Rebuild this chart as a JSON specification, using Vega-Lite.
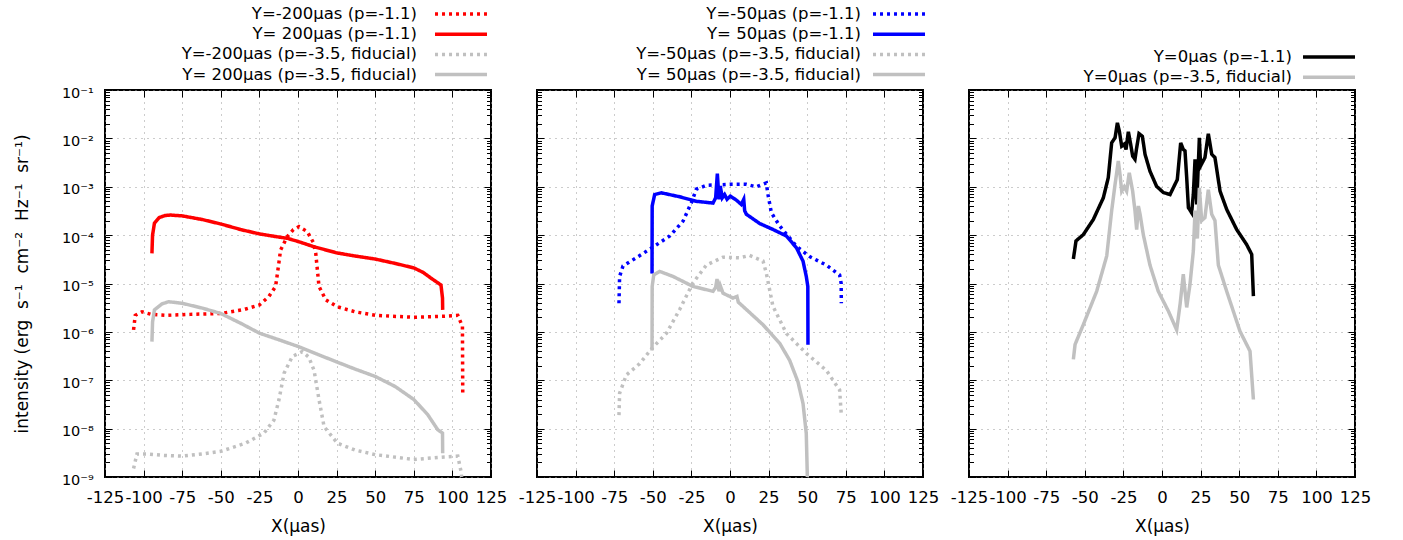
{
  "$schema": "https://vega.github.io/schema/vega-lite/v6.json",
  "autosize": {"type": "none"},
  "padding": {"left": 105, "top": 90, "right": 1298, "bottom": 450},
  "background": "white",
  "spacing": 46,
  "bounds": "flush",
  "config": {
    "font": "DejaVu Sans",
    "view": {"stroke": "black", "strokeWidth": 2},
    "axis": {"domain": false, "tickColor": "black", "tickWidth": 1, "labelColor": "black", "titleColor": "black", "titleFontWeight": "normal", "gridColor": "#999999", "gridDash": [1, 5], "gridWidth": 1, "labelFont": "DejaVu Sans", "titleFont": "DejaVu Sans"},
    "legend": {"orient": "none", "symbolType": "M-5,0H5", "symbolSize": 108, "symbolStrokeWidth": 3.5, "labelAlign": "right", "labelFontSize": 16.5, "labelFont": "DejaVu Sans", "labelColor": "black", "rowPadding": 3.2, "padding": 0, "labelLimit": 500}
  },
  "resolve": {"scale": {"color": "independent", "strokeDash": "independent"}, "legend": {"color": "independent", "strokeDash": "independent"}},
  "datasets": {
    "p1": [
      {"s": "Y=-200μas (p=-1.1)", "x": -106.5, "y": 1.1e-6},
      {"s": "Y=-200μas (p=-1.1)", "x": -105.4, "y": 2.2e-6},
      {"s": "Y=-200μas (p=-1.1)", "x": -101, "y": 2.6e-6},
      {"s": "Y=-200μas (p=-1.1)", "x": -95, "y": 2.3e-6},
      {"s": "Y=-200μas (p=-1.1)", "x": -85, "y": 2.2e-6},
      {"s": "Y=-200μas (p=-1.1)", "x": -70, "y": 2.3e-6},
      {"s": "Y=-200μas (p=-1.1)", "x": -50, "y": 2.4e-6},
      {"s": "Y=-200μas (p=-1.1)", "x": -35, "y": 2.9e-6},
      {"s": "Y=-200μas (p=-1.1)", "x": -25, "y": 3.6e-6},
      {"s": "Y=-200μas (p=-1.1)", "x": -18.8, "y": 5.4e-6},
      {"s": "Y=-200μas (p=-1.1)", "x": -14.5, "y": 8.7e-6},
      {"s": "Y=-200μas (p=-1.1)", "x": -12.5, "y": 2.5e-5},
      {"s": "Y=-200μas (p=-1.1)", "x": -11.3, "y": 4.9e-5},
      {"s": "Y=-200μas (p=-1.1)", "x": -7, "y": 9.3e-5},
      {"s": "Y=-200μas (p=-1.1)", "x": -3, "y": 1.3e-4},
      {"s": "Y=-200μas (p=-1.1)", "x": 0.6, "y": 1.5e-4},
      {"s": "Y=-200μas (p=-1.1)", "x": 6, "y": 1.18e-4},
      {"s": "Y=-200μas (p=-1.1)", "x": 10, "y": 7e-5},
      {"s": "Y=-200μas (p=-1.1)", "x": 11.5, "y": 4.2e-5},
      {"s": "Y=-200μas (p=-1.1)", "x": 13.6, "y": 8.7e-6},
      {"s": "Y=-200μas (p=-1.1)", "x": 18, "y": 4.6e-6},
      {"s": "Y=-200μas (p=-1.1)", "x": 25.5, "y": 3.3e-6},
      {"s": "Y=-200μas (p=-1.1)", "x": 37, "y": 2.6e-6},
      {"s": "Y=-200μas (p=-1.1)", "x": 50, "y": 2.2e-6},
      {"s": "Y=-200μas (p=-1.1)", "x": 75, "y": 2.0e-6},
      {"s": "Y=-200μas (p=-1.1)", "x": 93.7, "y": 2.1e-6},
      {"s": "Y=-200μas (p=-1.1)", "x": 103.5, "y": 2.2e-6},
      {"s": "Y=-200μas (p=-1.1)", "x": 106.5, "y": 1.3e-6},
      {"s": "Y=-200μas (p=-1.1)", "x": 106.7, "y": 5.4e-8},
      {"s": "Y= 200μas (p=-1.1)", "x": -94.6, "y": 4.2e-5},
      {"s": "Y= 200μas (p=-1.1)", "x": -94.2, "y": 1.0e-4},
      {"s": "Y= 200μas (p=-1.1)", "x": -93, "y": 1.76e-4},
      {"s": "Y= 200μas (p=-1.1)", "x": -90, "y": 2.3e-4},
      {"s": "Y= 200μas (p=-1.1)", "x": -86, "y": 2.55e-4},
      {"s": "Y= 200μas (p=-1.1)", "x": -82.7, "y": 2.6e-4},
      {"s": "Y= 200μas (p=-1.1)", "x": -75, "y": 2.5e-4},
      {"s": "Y= 200μas (p=-1.1)", "x": -62, "y": 2.1e-4},
      {"s": "Y= 200μas (p=-1.1)", "x": -50, "y": 1.7e-4},
      {"s": "Y= 200μas (p=-1.1)", "x": -37, "y": 1.3e-4},
      {"s": "Y= 200μas (p=-1.1)", "x": -25, "y": 1.06e-4},
      {"s": "Y= 200μas (p=-1.1)", "x": -15, "y": 9.4e-5},
      {"s": "Y= 200μas (p=-1.1)", "x": -7, "y": 8.6e-5},
      {"s": "Y= 200μas (p=-1.1)", "x": 0, "y": 7.4e-5},
      {"s": "Y= 200μas (p=-1.1)", "x": 10, "y": 5.8e-5},
      {"s": "Y= 200μas (p=-1.1)", "x": 25, "y": 4.3e-5},
      {"s": "Y= 200μas (p=-1.1)", "x": 37, "y": 3.7e-5},
      {"s": "Y= 200μas (p=-1.1)", "x": 50, "y": 3.2e-5},
      {"s": "Y= 200μas (p=-1.1)", "x": 63, "y": 2.6e-5},
      {"s": "Y= 200μas (p=-1.1)", "x": 75, "y": 2.1e-5},
      {"s": "Y= 200μas (p=-1.1)", "x": 81, "y": 1.7e-5},
      {"s": "Y= 200μas (p=-1.1)", "x": 86, "y": 1.3e-5},
      {"s": "Y= 200μas (p=-1.1)", "x": 92.6, "y": 9.3e-6},
      {"s": "Y= 200μas (p=-1.1)", "x": 93.6, "y": 5e-6},
      {"s": "Y= 200μas (p=-1.1)", "x": 93.7, "y": 2.85e-6},
      {"s": "Y=-200μas (p=-3.5, fiducial)", "x": -106.5, "y": 1.5e-9},
      {"s": "Y=-200μas (p=-3.5, fiducial)", "x": -104.3, "y": 3.0e-9},
      {"s": "Y=-200μas (p=-3.5, fiducial)", "x": -97.8, "y": 3.0e-9},
      {"s": "Y=-200μas (p=-3.5, fiducial)", "x": -87, "y": 2.8e-9},
      {"s": "Y=-200μas (p=-3.5, fiducial)", "x": -75, "y": 2.7e-9},
      {"s": "Y=-200μas (p=-3.5, fiducial)", "x": -62, "y": 3.0e-9},
      {"s": "Y=-200μas (p=-3.5, fiducial)", "x": -50, "y": 3.4e-9},
      {"s": "Y=-200μas (p=-3.5, fiducial)", "x": -34, "y": 5.0e-9},
      {"s": "Y=-200μas (p=-3.5, fiducial)", "x": -22, "y": 8.1e-9},
      {"s": "Y=-200μas (p=-3.5, fiducial)", "x": -15.6, "y": 1.5e-8},
      {"s": "Y=-200μas (p=-3.5, fiducial)", "x": -12.3, "y": 4.0e-8},
      {"s": "Y=-200μas (p=-3.5, fiducial)", "x": -9, "y": 1.4e-7},
      {"s": "Y=-200μas (p=-3.5, fiducial)", "x": -3.7, "y": 3.1e-7},
      {"s": "Y=-200μas (p=-3.5, fiducial)", "x": 2.8, "y": 3.9e-7},
      {"s": "Y=-200μas (p=-3.5, fiducial)", "x": 7, "y": 3.0e-7},
      {"s": "Y=-200μas (p=-3.5, fiducial)", "x": 10.4, "y": 1.6e-7},
      {"s": "Y=-200μas (p=-3.5, fiducial)", "x": 13.6, "y": 4.0e-8},
      {"s": "Y=-200μas (p=-3.5, fiducial)", "x": 16.9, "y": 1.1e-8},
      {"s": "Y=-200μas (p=-3.5, fiducial)", "x": 25.5, "y": 5.0e-9},
      {"s": "Y=-200μas (p=-3.5, fiducial)", "x": 37, "y": 3.6e-9},
      {"s": "Y=-200μas (p=-3.5, fiducial)", "x": 50, "y": 2.9e-9},
      {"s": "Y=-200μas (p=-3.5, fiducial)", "x": 75, "y": 2.3e-9},
      {"s": "Y=-200μas (p=-3.5, fiducial)", "x": 94.8, "y": 2.6e-9},
      {"s": "Y=-200μas (p=-3.5, fiducial)", "x": 103.5, "y": 2.7e-9},
      {"s": "Y=-200μas (p=-3.5, fiducial)", "x": 105.6, "y": 1.3e-9},
      {"s": "Y=-200μas (p=-3.5, fiducial)", "x": 106, "y": 1.0e-9},
      {"s": "Y= 200μas (p=-3.5, fiducial)", "x": -94.6, "y": 6.3e-7},
      {"s": "Y= 200μas (p=-3.5, fiducial)", "x": -94.2, "y": 1.6e-6},
      {"s": "Y= 200μas (p=-3.5, fiducial)", "x": -93, "y": 2.85e-6},
      {"s": "Y= 200μas (p=-3.5, fiducial)", "x": -88, "y": 3.8e-6},
      {"s": "Y= 200μas (p=-3.5, fiducial)", "x": -83.8, "y": 4.2e-6},
      {"s": "Y= 200μas (p=-3.5, fiducial)", "x": -75, "y": 3.9e-6},
      {"s": "Y= 200μas (p=-3.5, fiducial)", "x": -62, "y": 3.1e-6},
      {"s": "Y= 200μas (p=-3.5, fiducial)", "x": -50, "y": 2.4e-6},
      {"s": "Y= 200μas (p=-3.5, fiducial)", "x": -37, "y": 1.5e-6},
      {"s": "Y= 200μas (p=-3.5, fiducial)", "x": -25, "y": 9.4e-7},
      {"s": "Y= 200μas (p=-3.5, fiducial)", "x": -12, "y": 6.8e-7},
      {"s": "Y= 200μas (p=-3.5, fiducial)", "x": 0, "y": 5.0e-7},
      {"s": "Y= 200μas (p=-3.5, fiducial)", "x": 12, "y": 3.5e-7},
      {"s": "Y= 200μas (p=-3.5, fiducial)", "x": 25, "y": 2.4e-7},
      {"s": "Y= 200μas (p=-3.5, fiducial)", "x": 37, "y": 1.7e-7},
      {"s": "Y= 200μas (p=-3.5, fiducial)", "x": 50, "y": 1.2e-7},
      {"s": "Y= 200μas (p=-3.5, fiducial)", "x": 63, "y": 7.4e-8},
      {"s": "Y= 200μas (p=-3.5, fiducial)", "x": 75, "y": 4.0e-8},
      {"s": "Y= 200μas (p=-3.5, fiducial)", "x": 84, "y": 1.95e-8},
      {"s": "Y= 200μas (p=-3.5, fiducial)", "x": 90.5, "y": 9.5e-9},
      {"s": "Y= 200μas (p=-3.5, fiducial)", "x": 93.6, "y": 8.1e-9},
      {"s": "Y= 200μas (p=-3.5, fiducial)", "x": 93.7, "y": 3.1e-9}
    ],
    "p2": [
      {"s": "Y=-50μas (p=-1.1)", "x": -71.9, "y": 3.9e-6},
      {"s": "Y=-50μas (p=-1.1)", "x": -71.5, "y": 1.4e-5},
      {"s": "Y=-50μas (p=-1.1)", "x": -69.3, "y": 2.3e-5},
      {"s": "Y=-50μas (p=-1.1)", "x": -60.7, "y": 3.4e-5},
      {"s": "Y=-50μas (p=-1.1)", "x": -50.5, "y": 5.5e-5},
      {"s": "Y=-50μas (p=-1.1)", "x": -39, "y": 9.6e-5},
      {"s": "Y=-50μas (p=-1.1)", "x": -30.4, "y": 1.95e-4},
      {"s": "Y=-50μas (p=-1.1)", "x": -25, "y": 4.7e-4},
      {"s": "Y=-50μas (p=-1.1)", "x": -21.8, "y": 8.9e-4},
      {"s": "Y=-50μas (p=-1.1)", "x": -15.3, "y": 1.07e-3},
      {"s": "Y=-50μas (p=-1.1)", "x": -0.2, "y": 1.12e-3},
      {"s": "Y=-50μas (p=-1.1)", "x": 10.6, "y": 1.12e-3},
      {"s": "Y=-50μas (p=-1.1)", "x": 17, "y": 1.0e-3},
      {"s": "Y=-50μas (p=-1.1)", "x": 23.5, "y": 1.2e-3},
      {"s": "Y=-50μas (p=-1.1)", "x": 24.6, "y": 6.9e-4},
      {"s": "Y=-50μas (p=-1.1)", "x": 26.8, "y": 2.9e-4},
      {"s": "Y=-50μas (p=-1.1)", "x": 32.2, "y": 1.55e-4},
      {"s": "Y=-50μas (p=-1.1)", "x": 43, "y": 5.9e-5},
      {"s": "Y=-50μas (p=-1.1)", "x": 51.6, "y": 3.6e-5},
      {"s": "Y=-50μas (p=-1.1)", "x": 62.4, "y": 2.4e-5},
      {"s": "Y=-50μas (p=-1.1)", "x": 71, "y": 1.5e-5},
      {"s": "Y=-50μas (p=-1.1)", "x": 72, "y": 1.0e-5},
      {"s": "Y=-50μas (p=-1.1)", "x": 72.1, "y": 3.9e-6},
      {"s": "Y= 50μas (p=-1.1)", "x": -50.5, "y": 1.6e-5},
      {"s": "Y= 50μas (p=-1.1)", "x": -50.4, "y": 4.0e-4},
      {"s": "Y= 50μas (p=-1.1)", "x": -48.8, "y": 6.9e-4},
      {"s": "Y= 50μas (p=-1.1)", "x": -44.5, "y": 7.5e-4},
      {"s": "Y= 50μas (p=-1.1)", "x": -32.6, "y": 6.2e-4},
      {"s": "Y= 50μas (p=-1.1)", "x": -21.8, "y": 5.0e-4},
      {"s": "Y= 50μas (p=-1.1)", "x": -11, "y": 4.6e-4},
      {"s": "Y= 50μas (p=-1.1)", "x": -9.3, "y": 5.9e-4},
      {"s": "Y= 50μas (p=-1.1)", "x": -8.2, "y": 1.86e-3},
      {"s": "Y= 50μas (p=-1.1)", "x": -7.1, "y": 5.5e-4},
      {"s": "Y= 50μas (p=-1.1)", "x": -6.3, "y": 1.04e-3},
      {"s": "Y= 50μas (p=-1.1)", "x": -5, "y": 5.9e-4},
      {"s": "Y= 50μas (p=-1.1)", "x": -3.5, "y": 6.9e-4},
      {"s": "Y= 50μas (p=-1.1)", "x": -1.9, "y": 5.5e-4},
      {"s": "Y= 50μas (p=-1.1)", "x": 0.2, "y": 6.4e-4},
      {"s": "Y= 50μas (p=-1.1)", "x": 4.1, "y": 5.3e-4},
      {"s": "Y= 50μas (p=-1.1)", "x": 7.3, "y": 4.3e-4},
      {"s": "Y= 50μas (p=-1.1)", "x": 8.9, "y": 5.5e-4},
      {"s": "Y= 50μas (p=-1.1)", "x": 9.5, "y": 3.2e-4},
      {"s": "Y= 50μas (p=-1.1)", "x": 10.6, "y": 2.7e-4},
      {"s": "Y= 50μas (p=-1.1)", "x": 19.2, "y": 1.74e-4},
      {"s": "Y= 50μas (p=-1.1)", "x": 27.8, "y": 1.31e-4},
      {"s": "Y= 50μas (p=-1.1)", "x": 36.5, "y": 9.6e-5},
      {"s": "Y= 50μas (p=-1.1)", "x": 43, "y": 5.5e-5},
      {"s": "Y= 50μas (p=-1.1)", "x": 47.3, "y": 2.9e-5},
      {"s": "Y= 50μas (p=-1.1)", "x": 49.4, "y": 1.4e-5},
      {"s": "Y= 50μas (p=-1.1)", "x": 50.4, "y": 8.7e-6},
      {"s": "Y= 50μas (p=-1.1)", "x": 50.5, "y": 5.4e-7},
      {"s": "Y=-50μas (p=-3.5, fiducial)", "x": -71.9, "y": 1.9e-8},
      {"s": "Y=-50μas (p=-3.5, fiducial)", "x": -71.5, "y": 5.4e-8},
      {"s": "Y=-50μas (p=-3.5, fiducial)", "x": -67.1, "y": 1.29e-7},
      {"s": "Y=-50μas (p=-3.5, fiducial)", "x": -58.5, "y": 2.2e-7},
      {"s": "Y=-50μas (p=-3.5, fiducial)", "x": -50.5, "y": 4.6e-7},
      {"s": "Y=-50μas (p=-3.5, fiducial)", "x": -41.2, "y": 9.3e-7},
      {"s": "Y=-50μas (p=-3.5, fiducial)", "x": -32.6, "y": 2.9e-6},
      {"s": "Y=-50μas (p=-3.5, fiducial)", "x": -24, "y": 1.03e-5},
      {"s": "Y=-50μas (p=-3.5, fiducial)", "x": -15.3, "y": 2.4e-5},
      {"s": "Y=-50μas (p=-3.5, fiducial)", "x": -4.5, "y": 3.5e-5},
      {"s": "Y=-50μas (p=-3.5, fiducial)", "x": 6.3, "y": 3.4e-5},
      {"s": "Y=-50μas (p=-3.5, fiducial)", "x": 12.7, "y": 3.8e-5},
      {"s": "Y=-50μas (p=-3.5, fiducial)", "x": 21.4, "y": 2.9e-5},
      {"s": "Y=-50μas (p=-3.5, fiducial)", "x": 23.5, "y": 1.65e-5},
      {"s": "Y=-50μas (p=-3.5, fiducial)", "x": 27.8, "y": 3.4e-6},
      {"s": "Y=-50μas (p=-3.5, fiducial)", "x": 36.5, "y": 9.3e-7},
      {"s": "Y=-50μas (p=-3.5, fiducial)", "x": 49.4, "y": 3.6e-7},
      {"s": "Y=-50μas (p=-3.5, fiducial)", "x": 62.4, "y": 1.6e-7},
      {"s": "Y=-50μas (p=-3.5, fiducial)", "x": 71, "y": 6.3e-8},
      {"s": "Y=-50μas (p=-3.5, fiducial)", "x": 72.1, "y": 1.9e-8},
      {"s": "Y= 50μas (p=-3.5, fiducial)", "x": -50.5, "y": 4.1e-7},
      {"s": "Y= 50μas (p=-3.5, fiducial)", "x": -50.4, "y": 8.7e-6},
      {"s": "Y= 50μas (p=-3.5, fiducial)", "x": -49.4, "y": 1.5e-5},
      {"s": "Y= 50μas (p=-3.5, fiducial)", "x": -45.6, "y": 1.78e-5},
      {"s": "Y= 50μas (p=-3.5, fiducial)", "x": -36.9, "y": 1.4e-5},
      {"s": "Y= 50μas (p=-3.5, fiducial)", "x": -24, "y": 8.7e-6},
      {"s": "Y= 50μas (p=-3.5, fiducial)", "x": -11, "y": 6.9e-6},
      {"s": "Y= 50μas (p=-3.5, fiducial)", "x": -9.3, "y": 8.3e-6},
      {"s": "Y= 50μas (p=-3.5, fiducial)", "x": -8.4, "y": 1.23e-5},
      {"s": "Y= 50μas (p=-3.5, fiducial)", "x": -7.1, "y": 6.9e-6},
      {"s": "Y= 50μas (p=-3.5, fiducial)", "x": -6.3, "y": 9e-6},
      {"s": "Y= 50μas (p=-3.5, fiducial)", "x": -4.5, "y": 6.3e-6},
      {"s": "Y= 50μas (p=-3.5, fiducial)", "x": 1.9, "y": 5.0e-6},
      {"s": "Y= 50μas (p=-3.5, fiducial)", "x": 4.5, "y": 5.4e-6},
      {"s": "Y= 50μas (p=-3.5, fiducial)", "x": 5.4, "y": 4.1e-6},
      {"s": "Y= 50μas (p=-3.5, fiducial)", "x": 10.6, "y": 2.9e-6},
      {"s": "Y= 50μas (p=-3.5, fiducial)", "x": 21.4, "y": 1.4e-6},
      {"s": "Y= 50μas (p=-3.5, fiducial)", "x": 32.2, "y": 5.8e-7},
      {"s": "Y= 50μas (p=-3.5, fiducial)", "x": 38.6, "y": 2.6e-7},
      {"s": "Y= 50μas (p=-3.5, fiducial)", "x": 44, "y": 9.3e-8},
      {"s": "Y= 50μas (p=-3.5, fiducial)", "x": 47.3, "y": 3.3e-8},
      {"s": "Y= 50μas (p=-3.5, fiducial)", "x": 49.4, "y": 7.9e-9},
      {"s": "Y= 50μas (p=-3.5, fiducial)", "x": 50.1, "y": 1.0e-9}
    ],
    "p3": [
      {"s": "Y=0μas (p=-1.1)", "x": -57.4, "y": 3.2e-5},
      {"s": "Y=0μas (p=-1.1)", "x": -55.7, "y": 7.6e-5},
      {"s": "Y=0μas (p=-1.1)", "x": -51, "y": 1.02e-4},
      {"s": "Y=0μas (p=-1.1)", "x": -44.5, "y": 2.1e-4},
      {"s": "Y=0μas (p=-1.1)", "x": -38, "y": 5.9e-4},
      {"s": "Y=0μas (p=-1.1)", "x": -34.8, "y": 1.54e-3},
      {"s": "Y=0μas (p=-1.1)", "x": -32.6, "y": 8.1e-3},
      {"s": "Y=0μas (p=-1.1)", "x": -30.4, "y": 1.03e-2},
      {"s": "Y=0μas (p=-1.1)", "x": -28.9, "y": 2.1e-2},
      {"s": "Y=0μas (p=-1.1)", "x": -27.6, "y": 1.4e-2},
      {"s": "Y=0μas (p=-1.1)", "x": -26.1, "y": 6.9e-3},
      {"s": "Y=0μas (p=-1.1)", "x": -24.4, "y": 7.6e-3},
      {"s": "Y=0μas (p=-1.1)", "x": -23.3, "y": 5.9e-3},
      {"s": "Y=0μas (p=-1.1)", "x": -21.8, "y": 1.37e-2},
      {"s": "Y=0μas (p=-1.1)", "x": -20.3, "y": 7.6e-3},
      {"s": "Y=0μas (p=-1.1)", "x": -19, "y": 4.3e-3},
      {"s": "Y=0μas (p=-1.1)", "x": -17.5, "y": 3.7e-3},
      {"s": "Y=0μas (p=-1.1)", "x": -16.4, "y": 6.4e-3},
      {"s": "Y=0μas (p=-1.1)", "x": -14.9, "y": 1.25e-2},
      {"s": "Y=0μas (p=-1.1)", "x": -12.7, "y": 1.1e-2},
      {"s": "Y=0μas (p=-1.1)", "x": -11, "y": 4.7e-3},
      {"s": "Y=0μas (p=-1.1)", "x": -7.8, "y": 2.1e-3},
      {"s": "Y=0μas (p=-1.1)", "x": -3.5, "y": 1.02e-3},
      {"s": "Y=0μas (p=-1.1)", "x": 0.9, "y": 7.6e-4},
      {"s": "Y=0μas (p=-1.1)", "x": 5.2, "y": 6.9e-4},
      {"s": "Y=0μas (p=-1.1)", "x": 8.4, "y": 1.12e-3},
      {"s": "Y=0μas (p=-1.1)", "x": 9.9, "y": 1.4e-3},
      {"s": "Y=0μas (p=-1.1)", "x": 12.1, "y": 8.1e-3},
      {"s": "Y=0μas (p=-1.1)", "x": 13.8, "y": 5.9e-3},
      {"s": "Y=0μas (p=-1.1)", "x": 14.9, "y": 5.5e-3},
      {"s": "Y=0μas (p=-1.1)", "x": 16, "y": 1.54e-3},
      {"s": "Y=0μas (p=-1.1)", "x": 17.1, "y": 3.7e-4},
      {"s": "Y=0μas (p=-1.1)", "x": 19.2, "y": 2.9e-4},
      {"s": "Y=0μas (p=-1.1)", "x": 20.3, "y": 7e-4},
      {"s": "Y=0μas (p=-1.1)", "x": 21.4, "y": 3.7e-3},
      {"s": "Y=0μas (p=-1.1)", "x": 22.5, "y": 4.3e-4},
      {"s": "Y=0μas (p=-1.1)", "x": 24.2, "y": 1.03e-2},
      {"s": "Y=0μas (p=-1.1)", "x": 25, "y": 2.7e-3},
      {"s": "Y=0μas (p=-1.1)", "x": 27.8, "y": 4e-3},
      {"s": "Y=0μas (p=-1.1)", "x": 30, "y": 1.25e-2},
      {"s": "Y=0μas (p=-1.1)", "x": 32.2, "y": 4.7e-3},
      {"s": "Y=0μas (p=-1.1)", "x": 34.3, "y": 4e-3},
      {"s": "Y=0μas (p=-1.1)", "x": 37.6, "y": 8.1e-4},
      {"s": "Y=0μas (p=-1.1)", "x": 41.9, "y": 3.4e-4},
      {"s": "Y=0μas (p=-1.1)", "x": 48.4, "y": 1.3e-4},
      {"s": "Y=0μas (p=-1.1)", "x": 54.8, "y": 6.4e-5},
      {"s": "Y=0μas (p=-1.1)", "x": 58.1, "y": 4.0e-5},
      {"s": "Y=0μas (p=-1.1)", "x": 59.2, "y": 5.5e-6},
      {"s": "Y=0μas (p=-3.5, fiducial)", "x": -57.4, "y": 2.7e-7},
      {"s": "Y=0μas (p=-3.5, fiducial)", "x": -56.3, "y": 5.5e-7},
      {"s": "Y=0μas (p=-3.5, fiducial)", "x": -51, "y": 1.4e-6},
      {"s": "Y=0μas (p=-3.5, fiducial)", "x": -42.3, "y": 6.9e-6},
      {"s": "Y=0μas (p=-3.5, fiducial)", "x": -35.8, "y": 3.7e-5},
      {"s": "Y=0μas (p=-3.5, fiducial)", "x": -32.6, "y": 3.2e-4},
      {"s": "Y=0μas (p=-3.5, fiducial)", "x": -30.4, "y": 1.12e-3},
      {"s": "Y=0μas (p=-3.5, fiducial)", "x": -28.3, "y": 3.4e-3},
      {"s": "Y=0μas (p=-3.5, fiducial)", "x": -27.2, "y": 1.8e-3},
      {"s": "Y=0μas (p=-3.5, fiducial)", "x": -26.1, "y": 8.1e-4},
      {"s": "Y=0μas (p=-3.5, fiducial)", "x": -24.4, "y": 1.0e-3},
      {"s": "Y=0μas (p=-3.5, fiducial)", "x": -22.9, "y": 8.1e-4},
      {"s": "Y=0μas (p=-3.5, fiducial)", "x": -21.2, "y": 1.95e-3},
      {"s": "Y=0μas (p=-3.5, fiducial)", "x": -19, "y": 8.1e-4},
      {"s": "Y=0μas (p=-3.5, fiducial)", "x": -17.5, "y": 3.2e-4},
      {"s": "Y=0μas (p=-3.5, fiducial)", "x": -16.4, "y": 1.3e-4},
      {"s": "Y=0μas (p=-3.5, fiducial)", "x": -15.3, "y": 4e-4},
      {"s": "Y=0μas (p=-3.5, fiducial)", "x": -14.2, "y": 2.7e-4},
      {"s": "Y=0μas (p=-3.5, fiducial)", "x": -12.1, "y": 1.02e-4},
      {"s": "Y=0μas (p=-3.5, fiducial)", "x": -7.8, "y": 2.4e-5},
      {"s": "Y=0μas (p=-3.5, fiducial)", "x": -2.4, "y": 6.9e-6},
      {"s": "Y=0μas (p=-3.5, fiducial)", "x": 4.1, "y": 2.7e-6},
      {"s": "Y=0μas (p=-3.5, fiducial)", "x": 9.5, "y": 1.1e-6},
      {"s": "Y=0μas (p=-3.5, fiducial)", "x": 11.7, "y": 3.7e-6},
      {"s": "Y=0μas (p=-3.5, fiducial)", "x": 13.8, "y": 1.55e-5},
      {"s": "Y=0μas (p=-3.5, fiducial)", "x": 16, "y": 3.2e-6},
      {"s": "Y=0μas (p=-3.5, fiducial)", "x": 18.1, "y": 9.5e-6},
      {"s": "Y=0μas (p=-3.5, fiducial)", "x": 20.3, "y": 4.7e-5},
      {"s": "Y=0μas (p=-3.5, fiducial)", "x": 21.4, "y": 3.2e-4},
      {"s": "Y=0μas (p=-3.5, fiducial)", "x": 22.9, "y": 8.5e-5},
      {"s": "Y=0μas (p=-3.5, fiducial)", "x": 24.2, "y": 9.5e-4},
      {"s": "Y=0μas (p=-3.5, fiducial)", "x": 25.7, "y": 2e-4},
      {"s": "Y=0μas (p=-3.5, fiducial)", "x": 27.8, "y": 2.3e-4},
      {"s": "Y=0μas (p=-3.5, fiducial)", "x": 30, "y": 8.7e-4},
      {"s": "Y=0μas (p=-3.5, fiducial)", "x": 32.2, "y": 2.7e-4},
      {"s": "Y=0μas (p=-3.5, fiducial)", "x": 34.3, "y": 2.0e-4},
      {"s": "Y=0μas (p=-3.5, fiducial)", "x": 36.5, "y": 2.4e-5},
      {"s": "Y=0μas (p=-3.5, fiducial)", "x": 41.9, "y": 6.9e-6},
      {"s": "Y=0μas (p=-3.5, fiducial)", "x": 50.5, "y": 1.03e-6},
      {"s": "Y=0μas (p=-3.5, fiducial)", "x": 57, "y": 4.0e-7},
      {"s": "Y=0μas (p=-3.5, fiducial)", "x": 59.2, "y": 4.0e-8}
    ]
  },
  "hconcat": [
    {
      "width": 386, "height": 387,
      "data": {"name": "p1"},
      "resolve": {"axis": {"x": "independent", "y": "independent"}},
      "layer": [
        {
          "mark": {"type": "line", "strokeWidth": 3.5, "strokeCap": "butt", "clip": true},
          "encoding": {
            "x": {"field": "x", "type": "quantitative", "scale": {"domain": [-125, 125], "nice": false, "zero": false},
              "axis": {"orient": "bottom", "values": [-125, -100, -75, -50, -25, 0, 25, 50, 75, 100, 125], "tickSize": -7, "grid": true, "labelExpr": "replace(datum.label, '−', '-')", "labelFontSize": 16.5, "labelPadding": 19.7, "labelFlush": false, "labelOverlap": false, "title": "X(μas)", "titleFontSize": 17, "titlePadding": 12}},
            "y": {"field": "y", "type": "quantitative", "scale": {"type": "log", "domain": [1e-9, 0.1], "nice": false},
              "axis": {"orient": "left", "values": [1e-9, 1e-8, 1e-7, 1e-6, 1e-5, 1e-4, 1e-3, 1e-2, 0.1], "tickSize": -7, "grid": true, "labelExpr": "'10' + ['⁻¹','⁻²','⁻³','⁻⁴','⁻⁵','⁻⁶','⁻⁷','⁻⁸','⁻⁹'][round(-log(datum.value)/LN10) - 1]", "labelFontSize": 14.5, "labelPadding": 18.7, "labelOffset": 3, "labelOverlap": false, "labelFlush": false, "title": "intensity (erg\u00a0\u00a0s⁻¹\u00a0\u00a0cm⁻²\u00a0\u00a0Hz⁻¹\u00a0\u00a0sr⁻¹)", "titleFontSize": 17, "titleX": -83, "titleY": 193.5, "titleAngle": -90, "titleAlign": "center", "titleBaseline": "middle"}},
            "color": {"field": "s", "type": "nominal",
              "scale": {"domain": ["Y=-200μas (p=-1.1)", "Y= 200μas (p=-1.1)", "Y=-200μas (p=-3.5, fiducial)", "Y= 200μas (p=-3.5, fiducial)"], "range": ["#ff0000", "#ff0000", "#c0c0c0", "#c0c0c0"]},
              "legend": {"title": null, "orient": "none", "legendX": 347.75, "legendY": -84.25, "labelOffset": -52.25}},
            "strokeDash": {"field": "s", "type": "nominal",
              "scale": {"domain": ["Y=-200μas (p=-1.1)", "Y= 200μas (p=-1.1)", "Y=-200μas (p=-3.5, fiducial)", "Y= 200μas (p=-3.5, fiducial)"], "range": [[3, 4], [1, 0], [3, 4], [1, 0]]},
              "legend": {"title": null, "orient": "none", "legendX": 347.75, "legendY": -84.25, "labelOffset": -52.25}}
          }
        },
        {
          "mark": {"type": "point", "opacity": 0},
          "encoding": {
            "x": {"field": "x", "type": "quantitative", "axis": {"orient": "top", "values": [-125, -100, -75, -50, -25, 0, 25, 50, 75, 100, 125], "tickSize": -7, "grid": false, "labels": false, "title": null}},
            "y": {"field": "y", "type": "quantitative", "axis": {"orient": "right", "values": [1e-9, 1e-8, 1e-7, 1e-6, 1e-5, 1e-4, 1e-3, 1e-2, 0.1], "tickSize": -7, "grid": false, "labels": false, "title": null}}
          }
        },
        {
          "mark": {"type": "point", "opacity": 0},
          "encoding": {
            "x": {"field": "x", "type": "quantitative", "axis": null},
            "y": {"field": "y", "type": "quantitative", "axis": {"orient": "left", "values": [2e-9, 3e-9, 4e-9, 5e-9, 6e-9, 7e-9, 8e-9, 9e-9, 2e-8, 3e-8, 4e-8, 5e-8, 6e-8, 7e-8, 8e-8, 9e-8, 2e-7, 3e-7, 4e-7, 5e-7, 6e-7, 7e-7, 8e-7, 9e-7, 2e-6, 3e-6, 4e-6, 5e-6, 6e-6, 7e-6, 8e-6, 9e-6, 2e-5, 3e-5, 4e-5, 5e-5, 6e-5, 7e-5, 8e-5, 9e-5, 2e-4, 3e-4, 4e-4, 5e-4, 6e-4, 7e-4, 8e-4, 9e-4, 2e-3, 3e-3, 4e-3, 5e-3, 6e-3, 7e-3, 8e-3, 9e-3, 2e-2, 3e-2, 4e-2, 5e-2, 6e-2, 7e-2, 8e-2, 9e-2], "tickSize": -4.5, "grid": false, "labels": false, "title": null}}
          }
        },
        {
          "mark": {"type": "point", "opacity": 0},
          "encoding": {
            "x": {"field": "x", "type": "quantitative", "axis": null},
            "y": {"field": "y", "type": "quantitative", "axis": {"orient": "right", "values": [2e-9, 3e-9, 4e-9, 5e-9, 6e-9, 7e-9, 8e-9, 9e-9, 2e-8, 3e-8, 4e-8, 5e-8, 6e-8, 7e-8, 8e-8, 9e-8, 2e-7, 3e-7, 4e-7, 5e-7, 6e-7, 7e-7, 8e-7, 9e-7, 2e-6, 3e-6, 4e-6, 5e-6, 6e-6, 7e-6, 8e-6, 9e-6, 2e-5, 3e-5, 4e-5, 5e-5, 6e-5, 7e-5, 8e-5, 9e-5, 2e-4, 3e-4, 4e-4, 5e-4, 6e-4, 7e-4, 8e-4, 9e-4, 2e-3, 3e-3, 4e-3, 5e-3, 6e-3, 7e-3, 8e-3, 9e-3, 2e-2, 3e-2, 4e-2, 5e-2, 6e-2, 7e-2, 8e-2, 9e-2], "tickSize": -4.5, "grid": false, "labels": false, "title": null}}
          }
        }
      ]
    },
    {
      "width": 386, "height": 387,
      "data": {"name": "p2"},
      "resolve": {"axis": {"x": "independent", "y": "independent"}},
      "layer": [
        {
          "mark": {"type": "line", "strokeWidth": 3.5, "strokeCap": "butt", "clip": true},
          "encoding": {
            "x": {"field": "x", "type": "quantitative", "scale": {"domain": [-125, 125], "nice": false, "zero": false},
              "axis": {"orient": "bottom", "values": [-125, -100, -75, -50, -25, 0, 25, 50, 75, 100, 125], "tickSize": -7, "grid": true, "labelExpr": "replace(datum.label, '−', '-')", "labelFontSize": 16.5, "labelPadding": 19.7, "labelFlush": false, "labelOverlap": false, "title": "X(μas)", "titleFontSize": 17, "titlePadding": 12}},
            "y": {"field": "y", "type": "quantitative", "scale": {"type": "log", "domain": [1e-9, 0.1], "nice": false},
              "axis": {"orient": "left", "values": [1e-9, 1e-8, 1e-7, 1e-6, 1e-5, 1e-4, 1e-3, 1e-2, 0.1], "tickSize": -7, "grid": true, "labels": false, "title": null}},
            "color": {"field": "s", "type": "nominal",
              "scale": {"domain": ["Y=-50μas (p=-1.1)", "Y= 50μas (p=-1.1)", "Y=-50μas (p=-3.5, fiducial)", "Y= 50μas (p=-3.5, fiducial)"], "range": ["#0000ff", "#0000ff", "#c0c0c0", "#c0c0c0"]},
              "legend": {"title": null, "orient": "none", "legendX": 353.75, "legendY": -84.25, "labelOffset": -46.25}},
            "strokeDash": {"field": "s", "type": "nominal",
              "scale": {"domain": ["Y=-50μas (p=-1.1)", "Y= 50μas (p=-1.1)", "Y=-50μas (p=-3.5, fiducial)", "Y= 50μas (p=-3.5, fiducial)"], "range": [[3, 4], [1, 0], [3, 4], [1, 0]]},
              "legend": {"title": null, "orient": "none", "legendX": 353.75, "legendY": -84.25, "labelOffset": -46.25}}
          }
        },
        {
          "mark": {"type": "point", "opacity": 0},
          "encoding": {
            "x": {"field": "x", "type": "quantitative", "axis": {"orient": "top", "values": [-125, -100, -75, -50, -25, 0, 25, 50, 75, 100, 125], "tickSize": -7, "grid": false, "labels": false, "title": null}},
            "y": {"field": "y", "type": "quantitative", "axis": {"orient": "right", "values": [1e-9, 1e-8, 1e-7, 1e-6, 1e-5, 1e-4, 1e-3, 1e-2, 0.1], "tickSize": -7, "grid": false, "labels": false, "title": null}}
          }
        },
        {
          "mark": {"type": "point", "opacity": 0},
          "encoding": {
            "x": {"field": "x", "type": "quantitative", "axis": null},
            "y": {"field": "y", "type": "quantitative", "axis": {"orient": "left", "values": [2e-9, 3e-9, 4e-9, 5e-9, 6e-9, 7e-9, 8e-9, 9e-9, 2e-8, 3e-8, 4e-8, 5e-8, 6e-8, 7e-8, 8e-8, 9e-8, 2e-7, 3e-7, 4e-7, 5e-7, 6e-7, 7e-7, 8e-7, 9e-7, 2e-6, 3e-6, 4e-6, 5e-6, 6e-6, 7e-6, 8e-6, 9e-6, 2e-5, 3e-5, 4e-5, 5e-5, 6e-5, 7e-5, 8e-5, 9e-5, 2e-4, 3e-4, 4e-4, 5e-4, 6e-4, 7e-4, 8e-4, 9e-4, 2e-3, 3e-3, 4e-3, 5e-3, 6e-3, 7e-3, 8e-3, 9e-3, 2e-2, 3e-2, 4e-2, 5e-2, 6e-2, 7e-2, 8e-2, 9e-2], "tickSize": -4.5, "grid": false, "labels": false, "title": null}}
          }
        },
        {
          "mark": {"type": "point", "opacity": 0},
          "encoding": {
            "x": {"field": "x", "type": "quantitative", "axis": null},
            "y": {"field": "y", "type": "quantitative", "axis": {"orient": "right", "values": [2e-9, 3e-9, 4e-9, 5e-9, 6e-9, 7e-9, 8e-9, 9e-9, 2e-8, 3e-8, 4e-8, 5e-8, 6e-8, 7e-8, 8e-8, 9e-8, 2e-7, 3e-7, 4e-7, 5e-7, 6e-7, 7e-7, 8e-7, 9e-7, 2e-6, 3e-6, 4e-6, 5e-6, 6e-6, 7e-6, 8e-6, 9e-6, 2e-5, 3e-5, 4e-5, 5e-5, 6e-5, 7e-5, 8e-5, 9e-5, 2e-4, 3e-4, 4e-4, 5e-4, 6e-4, 7e-4, 8e-4, 9e-4, 2e-3, 3e-3, 4e-3, 5e-3, 6e-3, 7e-3, 8e-3, 9e-3, 2e-2, 3e-2, 4e-2, 5e-2, 6e-2, 7e-2, 8e-2, 9e-2], "tickSize": -4.5, "grid": false, "labels": false, "title": null}}
          }
        }
      ]
    },
    {
      "width": 386, "height": 387,
      "data": {"name": "p3"},
      "resolve": {"axis": {"x": "independent", "y": "independent"}},
      "layer": [
        {
          "mark": {"type": "line", "strokeWidth": 3.5, "strokeCap": "butt", "clip": true},
          "encoding": {
            "x": {"field": "x", "type": "quantitative", "scale": {"domain": [-125, 125], "nice": false, "zero": false},
              "axis": {"orient": "bottom", "values": [-125, -100, -75, -50, -25, 0, 25, 50, 75, 100, 125], "tickSize": -7, "grid": true, "labelExpr": "replace(datum.label, '−', '-')", "labelFontSize": 16.5, "labelPadding": 19.7, "labelFlush": false, "labelOverlap": false, "title": "X(μas)", "titleFontSize": 17, "titlePadding": 12}},
            "y": {"field": "y", "type": "quantitative", "scale": {"type": "log", "domain": [1e-9, 0.1], "nice": false},
              "axis": {"orient": "left", "values": [1e-9, 1e-8, 1e-7, 1e-6, 1e-5, 1e-4, 1e-3, 1e-2, 0.1], "tickSize": -7, "grid": true, "labels": false, "title": null}},
            "color": {"field": "s", "type": "nominal",
              "scale": {"domain": ["Y=0μas (p=-1.1)", "Y=0μas (p=-3.5, fiducial)"], "range": ["#000000", "#c0c0c0"]},
              "legend": {"title": null, "orient": "none", "legendX": 351.75, "legendY": -41.25, "labelOffset": -45.25}},
            "strokeDash": {"field": "s", "type": "nominal",
              "scale": {"domain": ["Y=0μas (p=-1.1)", "Y=0μas (p=-3.5, fiducial)"], "range": [[1, 0], [1, 0]]},
              "legend": {"title": null, "orient": "none", "legendX": 351.75, "legendY": -41.25, "labelOffset": -45.25}}
          }
        },
        {
          "mark": {"type": "point", "opacity": 0},
          "encoding": {
            "x": {"field": "x", "type": "quantitative", "axis": {"orient": "top", "values": [-125, -100, -75, -50, -25, 0, 25, 50, 75, 100, 125], "tickSize": -7, "grid": false, "labels": false, "title": null}},
            "y": {"field": "y", "type": "quantitative", "axis": {"orient": "right", "values": [1e-9, 1e-8, 1e-7, 1e-6, 1e-5, 1e-4, 1e-3, 1e-2, 0.1], "tickSize": -7, "grid": false, "labels": false, "title": null}}
          }
        },
        {
          "mark": {"type": "point", "opacity": 0},
          "encoding": {
            "x": {"field": "x", "type": "quantitative", "axis": null},
            "y": {"field": "y", "type": "quantitative", "axis": {"orient": "left", "values": [2e-9, 3e-9, 4e-9, 5e-9, 6e-9, 7e-9, 8e-9, 9e-9, 2e-8, 3e-8, 4e-8, 5e-8, 6e-8, 7e-8, 8e-8, 9e-8, 2e-7, 3e-7, 4e-7, 5e-7, 6e-7, 7e-7, 8e-7, 9e-7, 2e-6, 3e-6, 4e-6, 5e-6, 6e-6, 7e-6, 8e-6, 9e-6, 2e-5, 3e-5, 4e-5, 5e-5, 6e-5, 7e-5, 8e-5, 9e-5, 2e-4, 3e-4, 4e-4, 5e-4, 6e-4, 7e-4, 8e-4, 9e-4, 2e-3, 3e-3, 4e-3, 5e-3, 6e-3, 7e-3, 8e-3, 9e-3, 2e-2, 3e-2, 4e-2, 5e-2, 6e-2, 7e-2, 8e-2, 9e-2], "tickSize": -4.5, "grid": false, "labels": false, "title": null}}
          }
        },
        {
          "mark": {"type": "point", "opacity": 0},
          "encoding": {
            "x": {"field": "x", "type": "quantitative", "axis": null},
            "y": {"field": "y", "type": "quantitative", "axis": {"orient": "right", "values": [2e-9, 3e-9, 4e-9, 5e-9, 6e-9, 7e-9, 8e-9, 9e-9, 2e-8, 3e-8, 4e-8, 5e-8, 6e-8, 7e-8, 8e-8, 9e-8, 2e-7, 3e-7, 4e-7, 5e-7, 6e-7, 7e-7, 8e-7, 9e-7, 2e-6, 3e-6, 4e-6, 5e-6, 6e-6, 7e-6, 8e-6, 9e-6, 2e-5, 3e-5, 4e-5, 5e-5, 6e-5, 7e-5, 8e-5, 9e-5, 2e-4, 3e-4, 4e-4, 5e-4, 6e-4, 7e-4, 8e-4, 9e-4, 2e-3, 3e-3, 4e-3, 5e-3, 6e-3, 7e-3, 8e-3, 9e-3, 2e-2, 3e-2, 4e-2, 5e-2, 6e-2, 7e-2, 8e-2, 9e-2], "tickSize": -4.5, "grid": false, "labels": false, "title": null}}
          }
        }
      ]
    }
  ]
}
